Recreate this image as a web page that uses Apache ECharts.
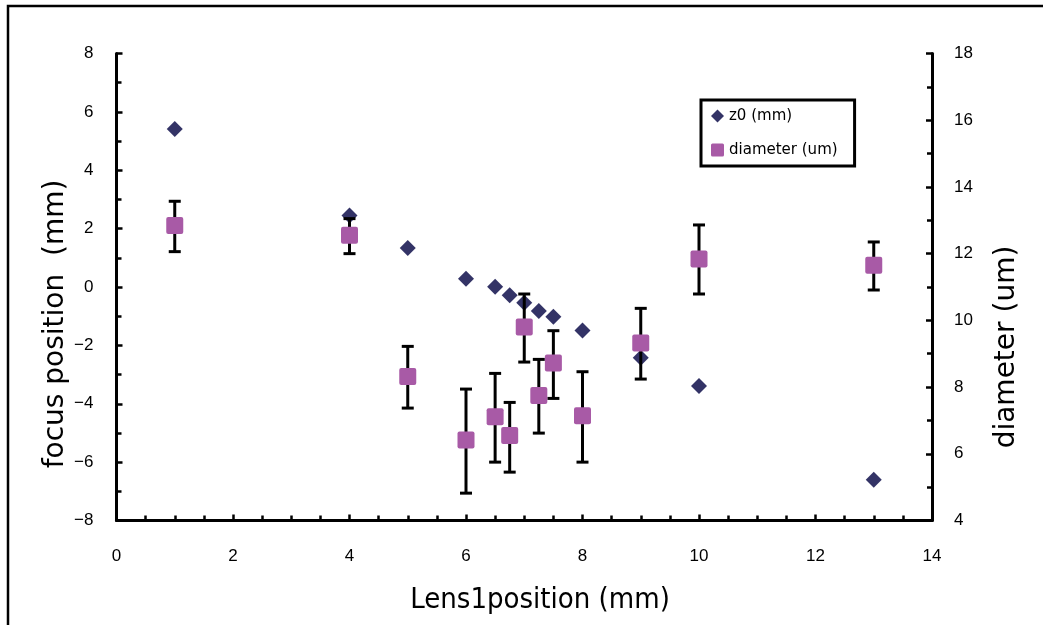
<!DOCTYPE html>
<html>
<head>
<meta charset="utf-8">
<title>focus position / diameter</title>
<script src="https://cdn.jsdelivr.net/npm/echarts@6/dist/echarts.min.js"></script>
<style>
  html, body { margin: 0; padding: 0; background: #fff; }
  #chart { width: 1043px; height: 625px; }
</style>
</head>
<body>
<div id="chart"></div>
<script>
// lens1 positions (mm)
var lensPos = [1, 4, 5, 6, 6.5, 6.75, 7, 7.25, 7.5, 8, 9, 10, 13];
// z0 focus position (mm), left axis
var z0 = [5.41, 2.45, 1.34, 0.28, 0.01, -0.28, -0.54, -0.82, -1.02, -1.49, -2.42, -3.39, -6.6];
// beam diameter (um), right axis
var diam = [12.84, 12.55, 8.32, 6.41, 7.11, 6.55, 9.8, 7.75, 8.72, 7.14, 9.32, 11.84, 11.65];
// error bar ends for diameter (um)
var diamTop = [13.57, 13.05, 9.22, 7.94, 8.41, 7.54, 10.79, 8.83, 9.69, 8.46, 10.36, 12.86, 12.35];
var diamBottom = [12.06, 12.0, 7.37, 4.82, 5.75, 5.45, 8.75, 6.62, 7.66, 5.75, 8.24, 10.79, 10.91];

var navy = '#333366';
var purple = '#a85aa6';
var labelFont = 'Liberation Sans';

var chart = echarts.init(document.getElementById('chart'));

function axisCommon() {
  return {
    type: 'value',
    axisLine: { show: true, onZero: false, lineStyle: { color: '#000', width: 3 } },
    axisTick: { show: true, inside: true, length: 6, lineStyle: { color: '#000', width: 2.5 } },
    minorTick: { show: true, length: 5, lineStyle: { color: '#000', width: 2.5 } },
    splitLine: { show: false },
    minorSplitLine: { show: false },
    axisLabel: { color: '#000', fontSize: 17, fontFamily: labelFont }
  };
}

var xAxis = axisCommon();
xAxis.min = 0; xAxis.max = 14; xAxis.interval = 2;
xAxis.minorTick.splitNumber = 4;
xAxis.axisLabel.margin = 27;

var yLeft = axisCommon();
yLeft.position = 'left';
yLeft.min = -8; yLeft.max = 8; yLeft.interval = 2;
yLeft.minorTick.splitNumber = 2;
yLeft.axisLabel.margin = 23;
yLeft.axisLabel.formatter = function (v) { return String(v).replace('-', '\u2212'); };

var yRight = axisCommon();
yRight.position = 'right';
yRight.min = 4; yRight.max = 18; yRight.interval = 2;
yRight.minorTick.splitNumber = 2;
yRight.axisLabel.margin = 22;

var squarePath = 'path://M2,0H15Q17,0 17,2V15Q17,17 15,17H2Q0,17 0,15V2Q0,0 2,0Z';

chart.setOption({
  animation: false,
  grid: { left: 116.5, right: 111, top: 53.5, bottom: 104.5 },
  xAxis: xAxis,
  yAxis: [yLeft, yRight],
  legend: {
    data: ['z0 (mm)', 'diameter (um)'],
    orient: 'vertical',
    left: 701,
    top: 100,
    padding: [3, 17, 3, 10],
    itemGap: 8,
    itemWidth: 13,
    itemHeight: 13,
    borderColor: '#000',
    borderWidth: 3,
    borderRadius: 0,
    backgroundColor: '#fff',
    textStyle: { color: '#000', fontSize: 15, fontFamily: 'DejaVu Sans', lineHeight: 14, padding: [12, 0, 0, 0] }
  },
  graphic: [
    { type: 'rect', shape: { x: 8, y: 6, width: 1200, height: 800 },
      style: { fill: 'none', stroke: '#000', lineWidth: 2.5 }, silent: true },
    { type: 'text', x: 540, y: 600,
      style: { text: 'Lens1position (mm)', font: '29px "DejaVu Sans Condensed", "DejaVu Sans"', fill: '#000',
        textAlign: 'center', textVerticalAlign: 'middle' } },
    { type: 'text', x: 56, y: 324, rotation: Math.PI / 2,
      style: { text: 'focus position  (mm)', font: '28px "DejaVu Sans"', fill: '#000',
        textAlign: 'center', textVerticalAlign: 'middle' } },
    { type: 'text', x: 1007, y: 347, rotation: Math.PI / 2,
      style: { text: 'diameter (um)', font: '28px "DejaVu Sans"', fill: '#000',
        textAlign: 'center', textVerticalAlign: 'middle' } }
  ],
  series: [
    {
      name: 'z0 (mm)',
      type: 'scatter',
      yAxisIndex: 0,
      symbol: 'diamond',
      symbolSize: 16,
      itemStyle: { color: navy, opacity: 1 },
      z: 2,
      data: lensPos.map(function (x, i) { return [x, z0[i]]; })
    },
    {
      name: 'diameter error',
      type: 'custom',
      yAxisIndex: 1,
      z: 3,
      encode: { x: 0, y: [1, 2] },
      renderItem: function (params, api) {
        var x = api.value(0);
        var lo = api.coord([x, api.value(1)]);
        var hi = api.coord([x, api.value(2)]);
        var w = 6;
        var st = { stroke: '#000', lineWidth: 3 };
        return {
          type: 'group',
          children: [
            { type: 'line', shape: { x1: lo[0], y1: lo[1], x2: hi[0], y2: hi[1] }, style: st },
            { type: 'line', shape: { x1: lo[0] - w, y1: lo[1], x2: lo[0] + w, y2: lo[1] }, style: st },
            { type: 'line', shape: { x1: hi[0] - w, y1: hi[1], x2: hi[0] + w, y2: hi[1] }, style: st }
          ]
        };
      },
      data: lensPos.map(function (x, i) { return [x, diamBottom[i], diamTop[i]]; })
    },
    {
      name: 'diameter (um)',
      type: 'scatter',
      yAxisIndex: 1,
      symbol: squarePath,
      symbolSize: 17,
      itemStyle: { color: purple, opacity: 1 },
      z: 4,
      data: lensPos.map(function (x, i) { return [x, diam[i]]; })
    }
  ]
});
</script>
</body>
</html>
